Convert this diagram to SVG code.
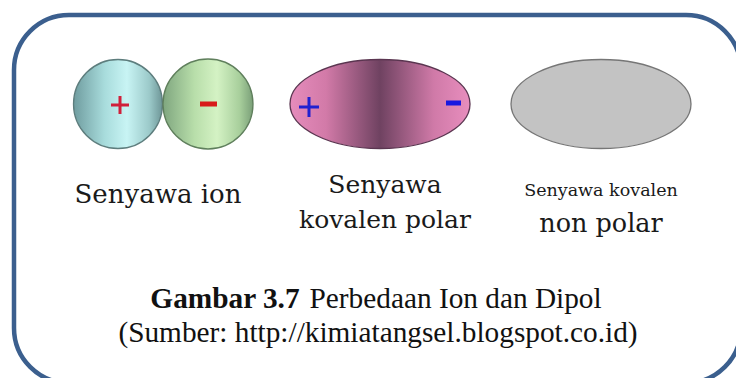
<svg xmlns="http://www.w3.org/2000/svg" width="736" height="378" viewBox="0 0 736 378">
  <style>
    .frame { fill: #ffffff; stroke: #3b5f8e; stroke-width: 4.5; }
    .label { font-family: "DejaVu Serif", "Liberation Serif", serif; fill: #1a1a1a; text-anchor: middle; }
    .caption { font-family: "Liberation Serif", serif; fill: #111; text-anchor: middle; font-size: 29.3px; }
    .edge { stroke-width: 1.3; }
  </style>
  <defs>
    <linearGradient id="cyanBall" x1="0" y1="0" x2="1" y2="0">
      <stop offset="0" stop-color="#6f9c9f"/>
      <stop offset="0.35" stop-color="#a8dcdc"/>
      <stop offset="0.6" stop-color="#c8f4f4"/>
      <stop offset="0.85" stop-color="#9ccaca"/>
      <stop offset="1" stop-color="#6d9596"/>
    </linearGradient>
    <linearGradient id="greenBall" x1="0" y1="0" x2="1" y2="0">
      <stop offset="0" stop-color="#7fa67f"/>
      <stop offset="0.35" stop-color="#b8deaa"/>
      <stop offset="0.6" stop-color="#d4f2c4"/>
      <stop offset="0.85" stop-color="#a8cf9c"/>
      <stop offset="1" stop-color="#7a9f78"/>
    </linearGradient>
    <linearGradient id="dipole" x1="0" y1="0" x2="1" y2="0">
      <stop offset="0" stop-color="#e68cbc"/>
      <stop offset="0.2" stop-color="#d27aa8"/>
      <stop offset="0.5" stop-color="#6f4261"/>
      <stop offset="0.8" stop-color="#d07aa8"/>
      <stop offset="1" stop-color="#e88ebe"/>
    </linearGradient>
  </defs>

  <!-- rounded frame, running past the right and bottom edges -->
  <rect class="frame" x="14" y="15" width="727" height="368" rx="55" ry="55"/>

  <!-- ionic pair -->
  <g id="ion">
    <circle cx="118" cy="104" r="44.5" fill="url(#cyanBall)" stroke="#5d7d7d" class="edge"/>
    <circle cx="208" cy="104" r="45" fill="url(#greenBall)" stroke="#5f7f5c" class="edge"/>
    <path d="M111 105 H129 M120 96 V114" stroke="#d0203a" stroke-width="3" fill="none"/>
    <rect x="200" y="101.5" width="17" height="5" fill="#d81a1a"/>
    <text class="label" x="158" y="203" font-size="26">Senyawa ion</text>
  </g>

  <!-- polar covalent -->
  <g id="polar">
    <ellipse cx="380" cy="104" rx="90" ry="44.5" fill="url(#dipole)" stroke="#5a3550" class="edge"/>
    <path d="M299 107 H319 M309 97 V117" stroke="#2020d0" stroke-width="3" fill="none"/>
    <rect x="446" y="100.5" width="15" height="5" fill="#1818e0"/>
    <text class="label" x="385" y="193" font-size="25">Senyawa</text>
    <text class="label" x="385" y="228" font-size="25">kovalen polar</text>
  </g>

  <!-- nonpolar covalent -->
  <g id="nonpolar">
    <ellipse cx="601" cy="104" rx="90" ry="44.5" fill="#c3c3c3" stroke="#767676" class="edge"/>
    <text class="label" x="601" y="196" font-size="17.5">Senyawa kovalen</text>
    <text class="label" x="601" y="232" font-size="25.5">non polar</text>
  </g>

  <g id="caption">
    <text class="caption" x="376" y="308"><tspan font-weight="bold">Gambar 3.7</tspan><tspan dx="10">Perbedaan Ion dan Dipol</tspan></text>
    <text class="caption" x="378" y="342">(Sumber: http://kimiatangsel.blogspot.co.id)</text>
  </g>
</svg>
